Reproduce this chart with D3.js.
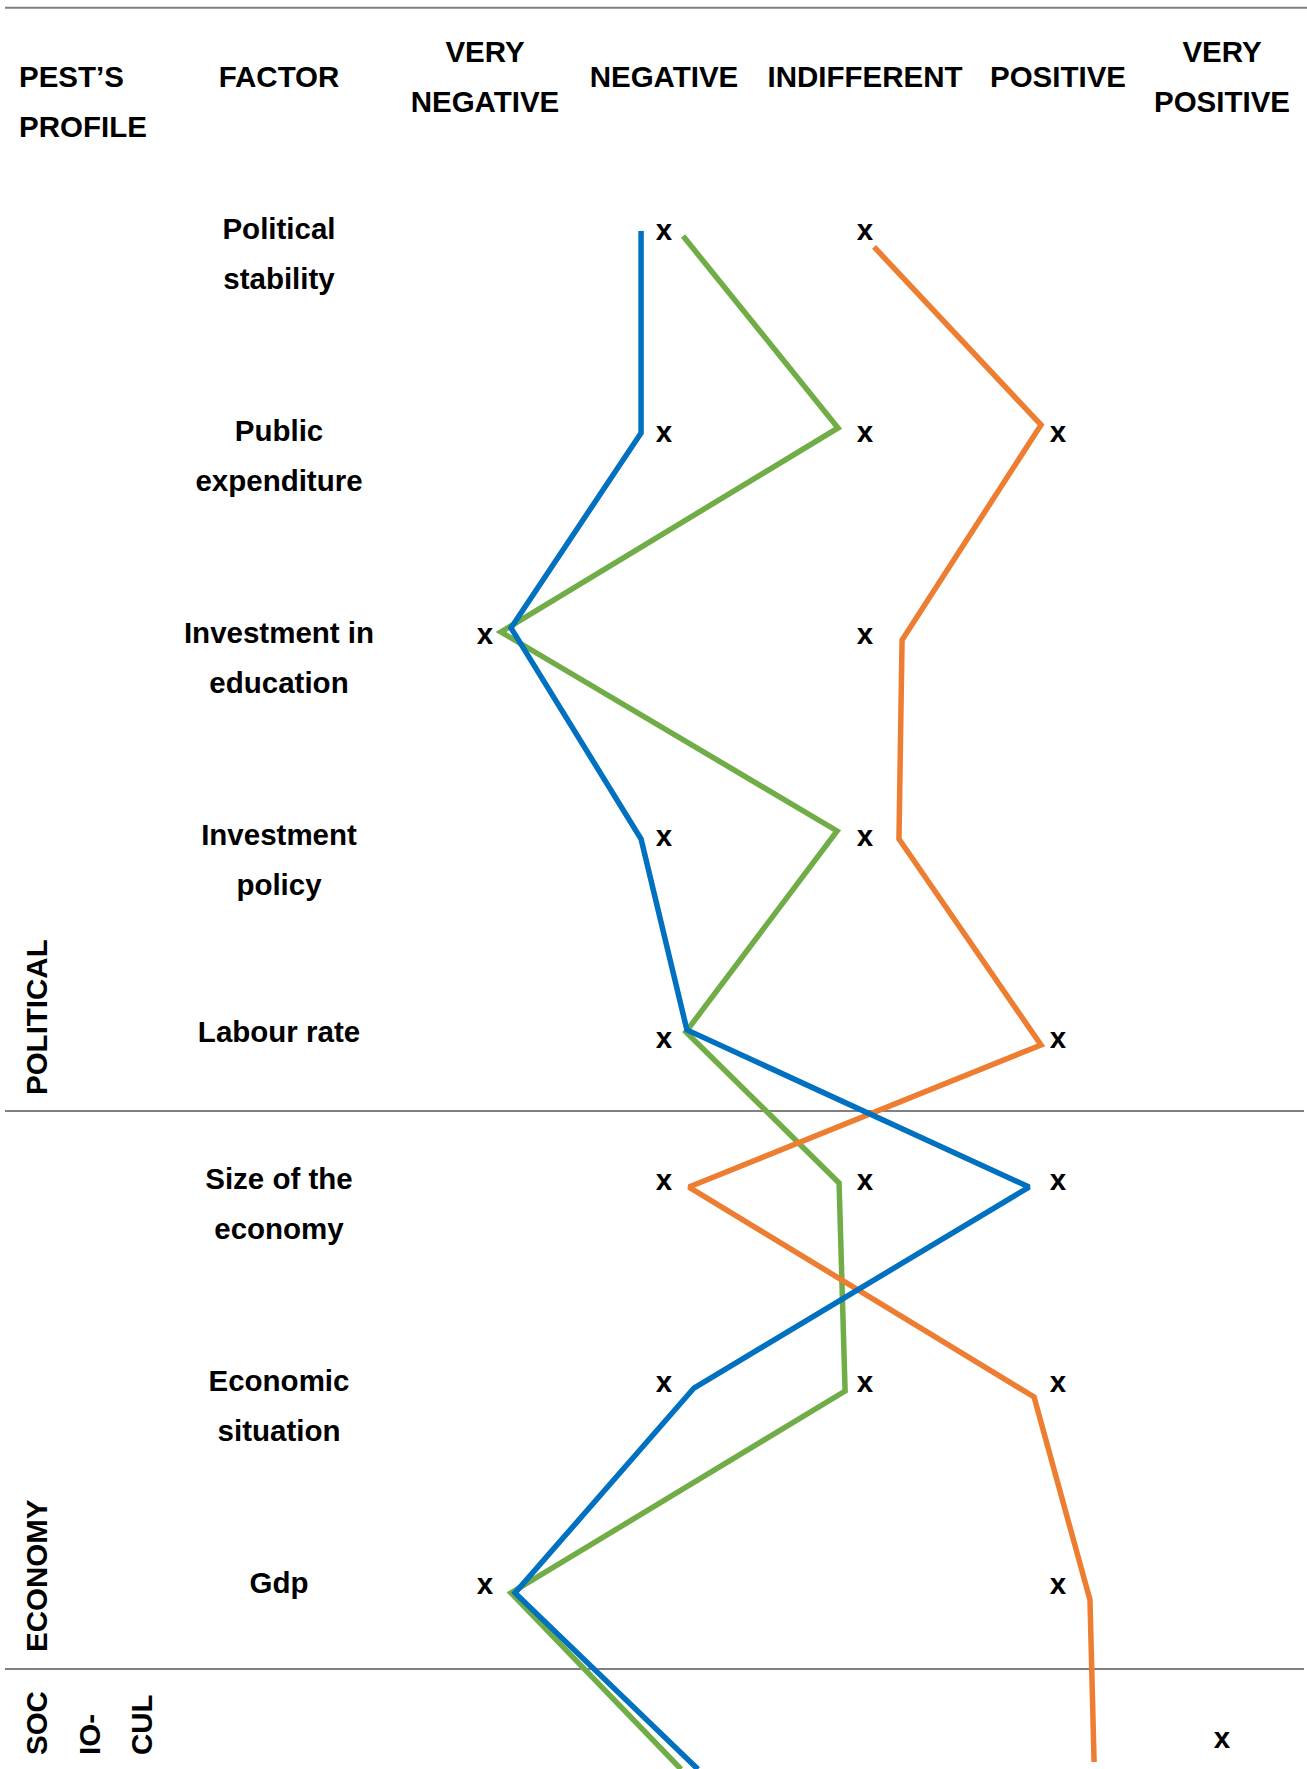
<!DOCTYPE html>
<html>
<head>
<meta charset="utf-8">
<script src="https://cdn.jsdelivr.net/npm/d3@7/dist/d3.min.js"></script>
<style>
  html, body { margin: 0; padding: 0; background: #fff; }
  svg { display: block; }
  text { font-family: "Liberation Sans", Arial, Helvetica, sans-serif; font-weight: bold; fill: #000; }
</style>
</head>
<body>
<script>
// ---------- DATA ----------
const scaleValues = [1, 2, 3, 4, 5];
const scaleLabels = [["VERY", "NEGATIVE"], ["NEGATIVE"], ["INDIFFERENT"], ["POSITIVE"], ["VERY", "POSITIVE"]];
const profileHeader = ["PEST\u2019S", "PROFILE"];
const factorHeader = "FACTOR";

const sectionNames = [["POLITICAL"], ["ECONOMY"], ["SOC", "IO-", "CUL"]];
const sectionRowCounts = [5, 3, 1];

const factorLabels = [
  ["Political", "stability"],
  ["Public", "expenditure"],
  ["Investment in", "education"],
  ["Investment", "policy"],
  ["Labour rate"],
  ["Size of the", "economy"],
  ["Economic", "situation"],
  ["Gdp"],
  []
];

// "x" marks: rated scale value(s) for each factor row
const marks = [[2, 3], [2, 3, 4], [1, 3], [2, 3], [2, 4], [2, 3, 4], [2, 3, 4], [1, 4], [5]];

// Profile lines: score (1..5) and row position (row index, fractional)
const blueScore   = [1.872, 1.872, 1.145, 1.872, 2.114, 3.850, 2.149, 1.168, 2.169];
const blueRow     = [-0.005, 0.995, 1.96, 3.005, 3.95, 5.025, 6.02, 7.045, 8.19];
const greenScore  = [2.095, 2.866, 1.089, 2.861, 2.109, 2.871, 2.901, 1.145, 2.085];
const greenRow    = [0.02, 0.97, 1.98, 2.965, 3.96, 5.005, 6.035, 7.045, 8.19];
const orangeScore = [3.047, 3.912, 3.192, 3.176, 3.912, 2.124, 3.876, 4.195, 4.22];
const orangeRow   = [0.074, 0.955, 2.02, 3.005, 4.035, 5.025, 6.064, 7.09, 8.143];

// ---------- LAYOUT ----------
const W = 1307, H = 1769;
const FONT = 29.5;
const colCenters = [485, 664, 865, 1058, 1222];
const factorX = 279;
const sectionTops = [161, 1111, 1669];   // divider lines at tops of sections 2 and 3
const rowGap = 202, rowPadTop = 71;
const sectionLabelX = [[37], [37], [37, 90, 142]];
const sectionLabelBottom = [1095, 1652, 1755];
const labelShift = [0, 0, 0, 0, -5, 0, 0, 0, 0];

const rowCenters = [];
sectionRowCounts.forEach((n, s) => {
  for (let j = 0; j < n; j++) rowCenters.push(sectionTops[s] + rowPadTop + j * rowGap);
});

const x = d3.scaleLinear().domain(scaleValues).range(colCenters);
const y = d3.scaleLinear().domain(d3.range(rowCenters.length)).range(rowCenters);

const svg = d3.select("body").append("svg").attr("width", W).attr("height", H);

// top rule and section dividers
svg.append("line").attr("x1", 5).attr("x2", W).attr("y1", 7.7).attr("y2", 7.7)
  .attr("stroke", "#808080").attr("stroke-width", 2);
sectionTops.slice(1).forEach(t => {
  svg.append("line").attr("x1", 5).attr("x2", 1304).attr("y1", t).attr("y2", t)
    .attr("stroke", "#808080").attr("stroke-width", 2);
});

// header
const hdr = svg.append("g").style("font-size", FONT + "px");
hdr.append("text").attr("x", 19).attr("y", 87).text(profileHeader[0]);
hdr.append("text").attr("x", 19).attr("y", 137).text(profileHeader[1]);
hdr.append("text").attr("x", factorX).attr("y", 87).attr("text-anchor", "middle").text(factorHeader);
scaleLabels.forEach((lines, i) => {
  const base = lines.length === 1 ? [87] : [62, 112];
  lines.forEach((t, k) => {
    hdr.append("text").attr("x", x(scaleValues[i])).attr("y", base[k])
      .attr("text-anchor", "middle").text(t);
  });
});

// factor labels
const fl = svg.append("g").style("font-size", FONT + "px");
factorLabels.forEach((lines, r) => {
  lines.forEach((t, k) => {
    fl.append("text").attr("x", factorX).attr("y", y(r) + 7 + labelShift[r] + k * 50)
      .attr("text-anchor", "middle").text(t);
  });
});

// section labels (rotated)
const sl = svg.append("g").style("font-size", FONT + "px");
sectionNames.forEach((parts, s) => {
  parts.forEach((t, k) => {
    const cx = sectionLabelX[s][k] + 10.4;
    sl.append("text")
      .attr("transform", `translate(${cx},${sectionLabelBottom[s]}) rotate(-90)`)
      .attr("text-anchor", "start").text(t);
  });
});

// profile lines
const lineGen = d3.line().x(d => x(d[0])).y(d => y(d[1]));
const series = [
  { s: greenScore, r: greenRow, c: "#70AD47" },
  { s: orangeScore, r: orangeRow, c: "#ED7D31" },
  { s: blueScore, r: blueRow, c: "#0070C0" }
];
series.forEach(d => {
  svg.append("path").datum(d.s.map((v, i) => [v, d.r[i]]))
    .attr("d", lineGen).attr("fill", "none").attr("stroke", d.c)
    .attr("stroke-width", 5.5).attr("stroke-linejoin", "miter").attr("stroke-miterlimit", 2);
});

// x marks
const mk = svg.append("g").style("font-size", FONT + "px");
marks.forEach((vals, r) => {
  vals.forEach(v => {
    mk.append("text").attr("x", x(v)).attr("y", y(r) + 8)
      .attr("text-anchor", "middle").text("x");
  });
});
</script>
</body>
</html>
